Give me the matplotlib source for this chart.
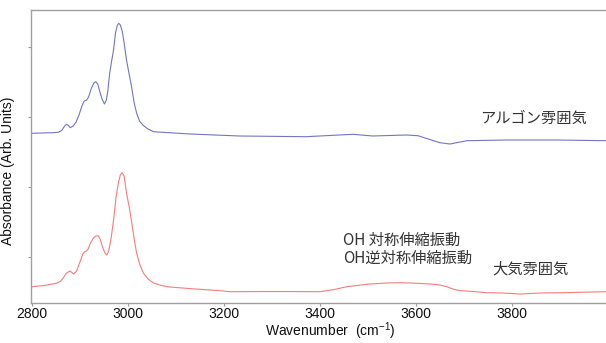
import numpy as np
import matplotlib.pyplot as plt

plt.rcParams['font.family'] = ['Liberation Sans', 'Noto Sans CJK JP', 'DejaVu Sans']
plt.rcParams['mathtext.fontset'] = 'custom'
plt.rcParams['mathtext.rm'] = 'Liberation Sans'
plt.rcParams['mathtext.default'] = 'rm'

# argon atmosphere spectrum (upper trace, offset)
wn_ar = [2800, 2820, 2844, 2855, 2862, 2868, 2872, 2876, 2880, 2886, 2892, 2898,
         2904, 2909, 2914, 2918, 2924, 2929, 2933, 2937, 2941, 2946, 2951, 2955,
         2958, 2962, 2966, 2970, 2974, 2978, 2981, 2984, 2988, 2992, 2997, 3002,
         3008, 3013, 3018, 3024, 3031, 3040, 3053, 3129, 3233, 3372, 3427, 3469,
         3510, 3580, 3604, 3650, 3671, 3706, 3789, 3893, 3996]
abs_ar = [1.697, 1.700, 1.703, 1.708, 1.725, 1.770, 1.787, 1.775, 1.753, 1.770,
          1.810, 1.880, 1.970, 2.020, 2.030, 2.060, 2.150, 2.200, 2.213, 2.190,
          2.120, 2.040, 1.990, 2.030, 2.120, 2.300, 2.420, 2.530, 2.700, 2.780,
          2.797, 2.780, 2.720, 2.600, 2.430, 2.300, 2.150, 2.000, 1.900, 1.820,
          1.780, 1.745, 1.713, 1.690, 1.670, 1.663, 1.677, 1.687, 1.670, 1.680,
          1.673, 1.603, 1.590, 1.623, 1.630, 1.630, 1.623]

# air atmosphere spectrum (lower trace)
wn_air = [2800, 2825, 2851, 2860, 2865, 2872, 2879, 2883, 2887, 2893, 2900, 2906,
          2910, 2914, 2917, 2922, 2928, 2933, 2938, 2942, 2947, 2952, 2956, 2960,
          2965, 2970, 2975, 2980, 2984, 2988, 2992, 2997, 3003, 3008, 3013, 3018,
          3025, 3032, 3042, 3053, 3070, 3087, 3140, 3192, 3213, 3300, 3400, 3430,
          3456, 3504, 3540, 3567, 3600, 3629, 3650, 3664, 3680, 3692, 3720, 3747,
          3780, 3817, 3860, 3907, 3950, 3996]
abs_air = [0.163, 0.175, 0.197, 0.220, 0.250, 0.300, 0.320, 0.305, 0.290, 0.320,
           0.410, 0.490, 0.513, 0.520, 0.540, 0.600, 0.650, 0.670, 0.673, 0.640,
           0.560, 0.500, 0.480, 0.520, 0.650, 0.830, 1.050, 1.200, 1.280, 1.303,
           1.270, 1.100, 0.950, 0.800, 0.640, 0.500, 0.380, 0.300, 0.240, 0.200,
           0.175, 0.160, 0.140, 0.123, 0.113, 0.115, 0.113, 0.135, 0.163, 0.190,
           0.200, 0.203, 0.198, 0.190, 0.180, 0.163, 0.135, 0.123, 0.115, 0.103,
           0.100, 0.090, 0.100, 0.103, 0.108, 0.113]

xticks = [2800, 3000, 3200, 3400, 3600, 3800]
yticks = [0.46, 1.16, 1.86, 2.56]

fig = plt.figure(figsize=(6.06, 3.43), dpi=100)
ax = fig.add_axes([31 / 606, 40 / 343, 575 / 606, 293 / 343])

ax.plot(wn_ar, abs_ar, color='#7474c8', lw=0.8)
ax.plot(wn_air, abs_air, color='#f87c7c', lw=0.8)

ax.set_xlim(2798, 3996)
ax.set_ylim(0, 2.93)
ax.set_xticks(xticks)
ax.set_yticks(yticks)
ax.set_yticklabels([])
ax.tick_params(axis='both', colors='#999999', length=2, width=0.8, pad=1,
               labelcolor='#111111', labelsize=10)

for side in ['left', 'top', 'bottom']:
    ax.spines[side].set_color('#a0a0a0')
    ax.spines[side].set_linewidth(1.0)
ax.spines['right'].set_visible(False)

ax.set_xlabel('Wavenumber  (cm$^{-1}$)', fontsize=10, color='#111111')
ax.xaxis.set_label_coords(0.52, -0.058)
ax.set_ylabel('Absorbance (Arb. Units)', fontsize=10, color='#111111')
ax.yaxis.set_label_coords(-0.028, 0.45)

jp = ['Noto Sans CJK JP', 'DejaVu Sans']
ax.text(3733, 1.85, 'アルゴン雰囲気', fontsize=11, color='#333333',
        family=jp, va='center')
ax.text(3448, 0.63, 'OH 対称伸縮振動', fontsize=11, color='#333333',
        family=jp, va='center')
ax.text(3448, 0.45, 'OH逆対称伸縮振動', fontsize=11, color='#333333',
        family=jp, va='center')
ax.text(3760, 0.34, '大気雰囲気', fontsize=11, color='#333333',
        family=jp, va='center')

fig.savefig('out.png', dpi=100)
